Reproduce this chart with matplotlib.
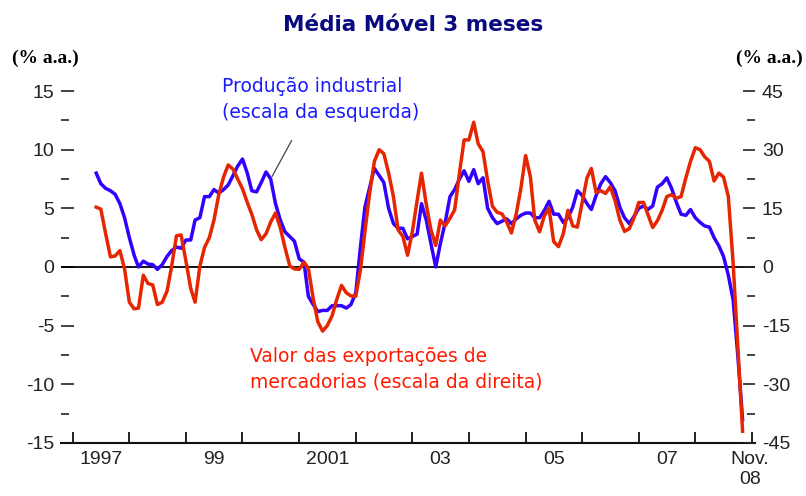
import numpy as np
import pandas as pd
import matplotlib
matplotlib.use('Agg')
import matplotlib.pyplot as plt
import matplotlib.dates as mdates

# monthly 3-month moving averages, Jun 1997 - Nov 2008 (% a.a.)
months = pd.date_range('1997-06-01', '2008-11-01', freq='MS')

# industrial production (left scale)
producao = [
    8.0, 7.1, 6.7, 6.5, 6.2, 5.4, 4.2, 2.5, 1.0, 0.0, 0.5, 0.25,
    0.2, -0.2, 0.2, 0.9, 1.4, 1.7, 1.6, 2.3, 2.3, 4.0, 4.2, 6.0,
    6.0, 6.6, 6.3, 6.6, 7.0, 7.8, 8.6, 9.2, 8.0, 6.5, 6.4, 7.2,
    8.1, 7.5, 5.4, 4.0, 3.0, 2.6, 2.2, 0.7, 0.4, -2.5, -3.2, -3.8,
    -3.7, -3.7, -3.3, -3.3, -3.3, -3.5, -3.2, -2.2, 1.8, 5.1, 6.8, 8.4,
    7.8, 7.2, 5.0, 3.7, 3.3, 3.3, 2.4, 2.6, 2.8, 5.4, 4.0, 2.0,
    0.0, 2.0, 3.8, 6.0, 6.6, 7.5, 8.2, 7.3, 8.3, 7.1, 7.6, 5.0,
    4.2, 3.7, 3.9, 4.1, 3.7, 4.1, 4.4, 4.6, 4.6, 4.2, 4.2, 4.8,
    5.6, 4.5, 4.5, 3.8, 4.2, 5.1, 6.5, 6.1, 5.4, 4.9, 6.1, 7.1,
    7.7, 7.2, 6.5, 5.1, 4.2, 3.7, 4.3, 5.0, 5.2, 4.9, 5.2, 6.8,
    7.1, 7.6, 6.7, 5.5, 4.5, 4.4, 4.9, 4.2, 3.8, 3.5, 3.4, 2.5,
    1.8, 0.9, -0.7, -2.8, -7.5, -13.0,
]

# merchandise exports value (right scale)
exportacoes = [
    15.3, 14.8, 8.5, 2.6, 2.8, 4.2, -0.5, -9.0, -10.7, -10.5, -2.1, -4.2,
    -4.6, -9.6, -9.0, -6.2, 0.2, 8.0, 8.2, 1.5, -5.5, -9.0, 0.2, 5.0,
    7.5, 12.0, 18.5, 23.0, 26.1, 25.0, 22.5, 20.0, 16.5, 13.5, 9.5, 7.0,
    8.5, 11.5, 13.8, 10.0, 5.0, 0.3, -0.5, -0.6, 1.2, -0.3, -8.0, -14.0,
    -16.4, -15.0, -12.5, -8.2, -4.7, -6.6, -7.4, -7.5, -0.5, 9.0, 19.0, 27.0,
    30.0, 29.0, 24.0, 18.0, 9.5, 7.8, 3.0, 9.0, 17.0, 24.0, 16.0, 9.5,
    5.5, 12.0, 10.5, 12.5, 14.6, 24.0, 32.5, 32.5, 37.0, 31.5, 29.5, 22.0,
    15.5, 14.0, 13.6, 11.5, 8.7, 13.5, 20.0, 28.5, 23.0, 12.0, 9.0, 13.0,
    15.0, 6.5, 5.2, 8.5, 14.5, 10.5, 10.2, 16.5, 22.8, 25.2, 19.0, 19.5,
    18.8, 20.5, 17.0, 12.0, 9.1, 9.8, 12.5, 16.5, 16.5, 13.5, 10.1, 11.8,
    14.5, 18.0, 18.5, 17.6, 18.0, 22.8, 27.0, 30.5, 30.0, 28.2, 27.0, 22.0,
    24.0, 23.0, 18.0, 1.0, -20.0, -42.0,
]

left_ticks = [-15, -10, -5, 0, 5, 10, 15]
right_ticks = [-45, -30, -15, 0, 15, 30, 45]
year_labels = ['1997', '99', '2001', '03', '05', '07', 'Nov.\n08']
label_dates = pd.to_datetime(['1997-07-01', '1999-07-01', '2001-07-01',
                              '2003-07-01', '2005-07-01', '2007-07-01',
                              '2008-12-20'])

BLUE = '#3300ff'
RED = '#e62600'
tick_font = ['Liberation Sans', 'DejaVu Sans']

fig = plt.figure(figsize=(8.06, 4.96), dpi=100)
ax = fig.add_axes([0.0757, 0.1069, 0.861, 0.7096])
ax2 = ax.twinx()

ax.plot(months, producao, color=BLUE, lw=2.5, zorder=3)
ax2.plot(months, exportacoes, color=RED, lw=2.5, zorder=3)
ax.axhline(0, color='black', lw=1.3, zorder=2)

ax.set_ylim(-15, 15)
ax2.set_ylim(-45, 45)
ax.set_xlim(pd.Timestamp('1996-10-17'), pd.Timestamp('2009-01-20'))

for a in (ax, ax2):
    for s in ('top', 'left', 'right', 'bottom'):
        a.spines[s].set_visible(False)
ax.spines['bottom'].set_visible(True)
ax.spines['bottom'].set_linewidth(1.5)
ax.spines['bottom'].set_color('#111')

# y axes
ax.set_yticks(left_ticks)
ax.set_yticklabels([str(v) for v in left_ticks], family=tick_font)
ax.set_yticks(np.arange(-12.5, 13, 5), minor=True)
ax2.set_yticks(right_ticks)
ax2.set_yticklabels([str(v) for v in right_ticks], family=tick_font)
ax2.set_yticks(np.arange(-37.5, 38, 15), minor=True)
for a in (ax, ax2):
    a.tick_params(axis='y', which='major', direction='in', length=9,
                  width=1.2, pad=5, labelsize=14, labelcolor='#222',
                  color='#222')
    a.tick_params(axis='y', which='minor', direction='in', length=6,
                  width=1.2, color='#222')

# x axis: year boundaries as ticks, labels centred on the year
ax.xaxis.set_major_locator(mdates.YearLocator())
ax.xaxis.set_major_formatter(plt.NullFormatter())
ax.set_xticks(label_dates, minor=True)
ax.set_xticklabels(year_labels, minor=True, family=tick_font)
ax.tick_params(axis='x', which='major', direction='in', length=8,
               width=1.3, color='#111')
ax.tick_params(axis='x', which='minor', length=0, pad=6, labelsize=14,
               labelcolor='#222')
ax2.tick_params(axis='x', which='both', length=0)

# titles and unit labels
fig.text(413 / 806, 1 - 25 / 496, 'Média Móvel 3 meses', ha='center',
         va='center', fontsize=15.5, fontweight='bold', color='#0a0a80')
fig.text(12 / 806, 1 - 58 / 496, '(% a.a.)', ha='left', va='center',
         fontsize=14, fontweight='bold', family='Liberation Serif')
fig.text(803 / 806, 1 - 58 / 496, '(% a.a.)', ha='right', va='center',
         fontsize=14, fontweight='bold', family='Liberation Serif')

# series labels
fig.text(222 / 806, 1 - 77 / 496, 'Produção industrial\n(escala da esquerda)',
         ha='left', va='top', fontsize=13.5, color='#1a1aff',
         linespacing=1.45)
fig.text(250 / 806, 1 - 347 / 496,
         'Valor das exportações de\nmercadorias (escala da direita)',
         ha='left', va='top', fontsize=13.5, color='#ff1a00',
         linespacing=1.45)
ax.annotate('', xy=(months[37], producao[37]),
            xytext=(293 / 806, 1 - 138 / 496), textcoords='figure fraction',
            arrowprops=dict(arrowstyle='-', color='#444', lw=0.9))

fig.savefig('out.png', dpi=100)
